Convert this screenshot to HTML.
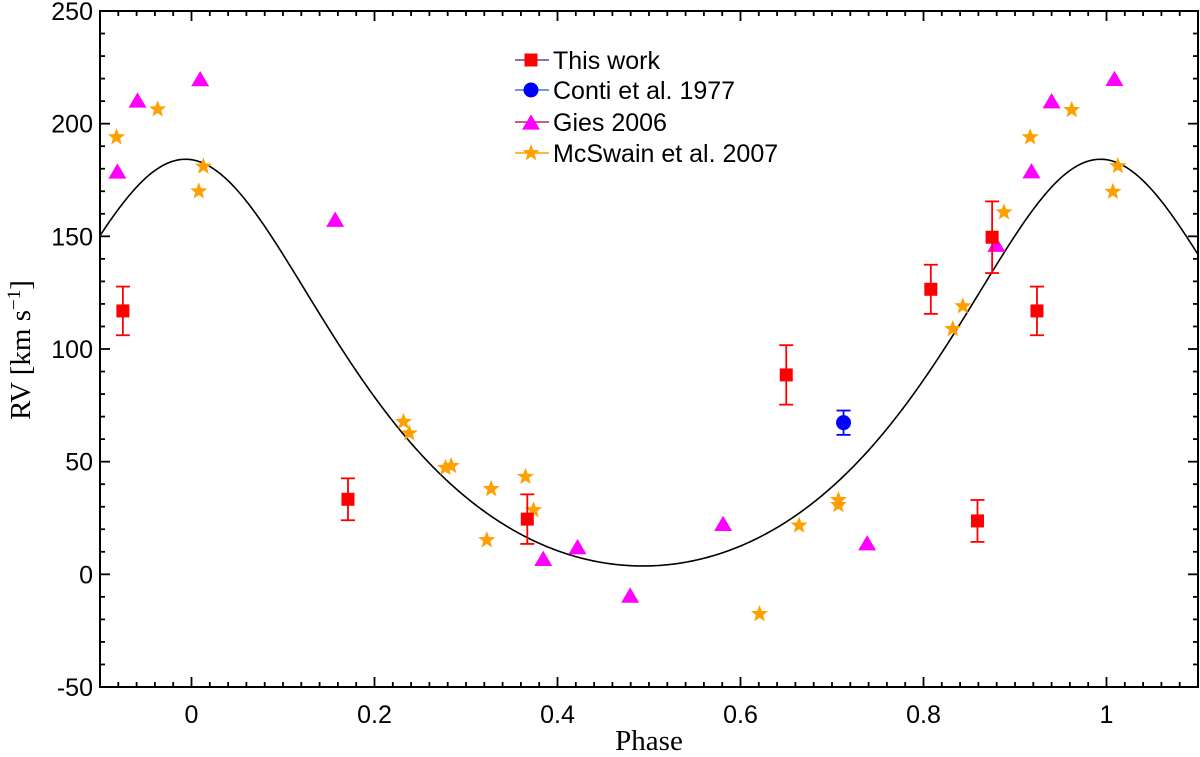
<!DOCTYPE html>
<html><head><meta charset="utf-8">
<style>
html,body{margin:0;padding:0;background:#fff;}
svg{display:block;}
</style></head>
<body>
<svg id="chart" width="1200" height="757" viewBox="0 0 1200 757" xmlns="http://www.w3.org/2000/svg">
<g id="grid-ticks"></g>
<g id="curve-layer"></g>
<g id="points-layer"></g>
<g id="legend"></g>
<text transform="translate(30,350) rotate(-90)" text-anchor="middle" font-family="'Liberation Serif', serif" font-size="29">RV [km s<tspan baseline-shift="super" font-size="19">−1</tspan>]</text>
<text x="649" y="750" text-anchor="middle" font-family="'Liberation Serif', serif" font-size="29">Phase</text>
</svg>
<script>
// ---- data ----
const thisWorkPhase = [-0.075, 0.171, 0.367, 0.650, 0.808, 0.859, 0.875, 0.924];
const thisWorkRV    = [116.9, 33.3, 24.5, 88.5, 126.5, 23.7, 149.6, 116.9];
const thisWorkErr   = [10.8, 9.3, 11, 13.2, 10.9, 9.3, 15.9, 10.8];
const contiPhase = [0.7126];
const contiRV    = [67.3];
const contiErr   = [5.4];
const giesPhase = [-0.081, -0.059, 0.0095, 0.157, 0.3844, 0.4219, 0.4794, 0.581, 0.7384, 0.8795, 0.918, 0.940, 1.0087];
const giesRV    = [179, 210.5, 220, 157.6, 7.1, 12.3, -9.2, 22.6, 14, 146.5, 179.1, 210.2, 220.1];
const mcswainPhase = [-0.082, -0.037, 0.008, 0.013, 0.2317, 0.238, 0.2776, 0.2838, 0.3227, 0.3275, 0.365, 0.3738, 0.6208, 0.664, 0.707, 0.707, 0.832, 0.843, 0.888, 0.9166, 0.962, 1.007, 1.0124];
const mcswainRV    = [194, 206.4, 170, 181, 67.7, 62.6, 47.3, 48.1, 15.2, 37.9, 43.3, 28.5, -17.6, 21.7, 33, 30.8, 108.9, 119, 160.7, 194, 206.1, 169.8, 181.2];
const xTickLabels = ["0", "0.2", "0.4", "0.6", "0.8", "1"];
const xTickValues = [0, 0.2, 0.4, 0.6, 0.8, 1.0];
const yTickLabels = ["-50", "0", "50", "100", "150", "200", "250"];
const yTickValues = [-50, 0, 50, 100, 150, 200, 250];
// orbital model parameters (fit curve)
const orbitGamma = 74.1, orbitK = 90.25, orbitE = 0.22, orbitT0 = -0.0066;

// ---- axes ----
const L = 100, R = 1198, T = 11, B = 687;
const xMin = -0.1, xMax = 1.1, yMin = -50, yMax = 250;
const X = p => L + (p - xMin) / (xMax - xMin) * (R - L);
const Y = v => B - (v - yMin) / (yMax - yMin) * (B - T);
const NS = "http://www.w3.org/2000/svg";
function mk(tag, attrs, parent) {
  const el = document.createElementNS(NS, tag);
  for (const k in attrs) el.setAttribute(k, attrs[k]);
  parent.appendChild(el);
  return el;
}
const svg = document.getElementById('chart');
const gT = document.getElementById('grid-ticks');
const frame = mk('rect', {x: L, y: T, width: R - L, height: B - T, fill: 'none', stroke: '#000', 'stroke-width': 2}, gT);


// x ticks
for (let i = -5; i <= 55; i++) {
  const p = i * 0.02;
  if (p < xMin - 1e-9 || p > xMax + 1e-9) continue;
  const major = Math.abs(i % 10) === 0;
  const len = major ? 10 : 5;
  const x = X(p);
  const t1 = mk('line', {x1: x, x2: x, y1: B, y2: B - len, stroke: '#000', 'stroke-width': 1.8}, gT);
  
  
  const t2 = mk('line', {x1: x, x2: x, y1: T, y2: T + len, stroke: '#000', 'stroke-width': 1.8}, gT);
  
  
}
xTickValues.forEach((v, i) => {
  const t = mk('text', {x: X(v), y: B + 36, 'text-anchor': 'middle', 'font-family': "'Liberation Sans', sans-serif", 'font-size': 25}, gT);
  t.textContent = xTickLabels[i];
  
  
});
// y ticks
for (let v = -50; v <= 250; v += 10) {
  const major = v % 50 === 0;
  const len = major ? 10 : 5;
  const y = Y(v);
  const t1 = mk('line', {x1: L, x2: L + len, y1: y, y2: y, stroke: '#000', 'stroke-width': 1.8}, gT);
  
  
  const t2 = mk('line', {x1: R, x2: R - len, y1: y, y2: y, stroke: '#000', 'stroke-width': 1.8}, gT);
  
  
}
yTickValues.forEach((v, i) => {
  const t = mk('text', {x: L - 7, y: Y(v) + 9, 'text-anchor': 'end', 'font-family': "'Liberation Sans', sans-serif", 'font-size': 25}, gT);
  t.textContent = yTickLabels[i];
  
  
});

// ---- model curve ----
function rvModel(phase) {
  let M = 2 * Math.PI * (phase - orbitT0);
  let E = M;
  for (let k = 0; k < 30; k++) E = M + orbitE * Math.sin(E);
  const nu = 2 * Math.atan2(Math.sqrt(1 + orbitE) * Math.sin(E / 2), Math.sqrt(1 - orbitE) * Math.cos(E / 2));
  return orbitGamma + orbitK * (Math.cos(nu) + orbitE);
}
let d = '';
for (let i = 0; i <= 600; i++) {
  const p = xMin + (xMax - xMin) * i / 600;
  d += (i ? 'L' : 'M') + X(p).toFixed(2) + ',' + Y(rvModel(p)).toFixed(2);
}
const curve = mk('path', {d: d, fill: 'none', stroke: '#000', 'stroke-width': 1.6}, document.getElementById('curve-layer'));



// ---- markers ----
const gP = document.getElementById('points-layer');
function errbar(x, y, e, color, cap) {
  const g = mk('g', {stroke: color, 'stroke-width': 1.8}, gP);
  
  
  mk('line', {x1: x, x2: x, y1: Y(y - e), y2: Y(y + e)}, g);
  mk('line', {x1: x - cap, x2: x + cap, y1: Y(y - e), y2: Y(y - e)}, g);
  mk('line', {x1: x - cap, x2: x + cap, y1: Y(y + e), y2: Y(y + e)}, g);
}
function starPath(cx, cy, r) {
  let s = '';
  for (let k = 0; k < 10; k++) {
    const a = -Math.PI / 2 + k * Math.PI / 5;
    const rr = k % 2 ? r * 0.42 : r;
    s += (k ? 'L' : 'M') + (cx + rr * Math.cos(a)).toFixed(2) + ',' + (cy + rr * Math.sin(a)).toFixed(2);
  }
  return s + 'Z';
}
function square(parent, cx, cy, s) { return mk('rect', {x: cx - s / 2, y: cy - s / 2, width: s, height: s, fill: '#ff0000'}, parent); }
function tri(parent, cx, cy, w) { const h = w * 0.85; return mk('path', {d: `M${cx - w / 2},${cy + h / 2}L${cx + w / 2},${cy + h / 2}L${cx},${cy - h / 2}Z`, fill: '#ff00ff'}, parent); }
function circ(parent, cx, cy, r) { return mk('circle', {cx: cx, cy: cy, r: r, fill: '#0000ff'}, parent); }
function star(parent, cx, cy, r) { return mk('path', {d: starPath(cx, cy, r), fill: '#ff9f00'}, parent); }

mcswainPhase.forEach((p, i) => {
  const m = star(gP, X(p), Y(mcswainRV[i]), 9);
  
  
});
giesPhase.forEach((p, i) => {
  const m = tri(gP, X(p), Y(giesRV[i]), 18);
  
  
});
contiPhase.forEach((p, i) => {
  errbar(X(p), contiRV[i], contiErr[i], '#0000ff', 7);
  const m = circ(gP, X(p), Y(contiRV[i]), 7.5);
  
  
});
thisWorkPhase.forEach((p, i) => {
  errbar(X(p), thisWorkRV[i], thisWorkErr[i], '#ff0000', 7);
  const m = square(gP, X(p), Y(thisWorkRV[i]), 13);
  
  
});

// ---- legend ----
const gL = document.getElementById('legend');
const legendLabels = ['This work', 'Conti et al. 1977', 'Gies 2006', 'McSwain et al. 2007'];
const legendLine = ['#7a3a8f', '#3a7fcf', '#c0205a', '#ff9f00'];
const legendY = [60, 90, 122, 153];
legendLabels.forEach((lab, i) => {
  const g = mk('g', {}, gL);
  
  
  const y = legendY[i];
  mk('line', {x1: 515, x2: 549, y1: y, y2: y, stroke: legendLine[i], 'stroke-width': 1.5}, g);
  if (i === 0) square(g, 531, y, 13);
  if (i === 1) circ(g, 531, y, 7.5);
  if (i === 2) tri(g, 531, y, 18);
  if (i === 3) star(g, 531, y, 9);
  const t = mk('text', {x: 553, y: y + 9, 'font-family': "'Liberation Sans', sans-serif", 'font-size': 25}, g);
  t.textContent = lab;
});
</script>
</body></html>
